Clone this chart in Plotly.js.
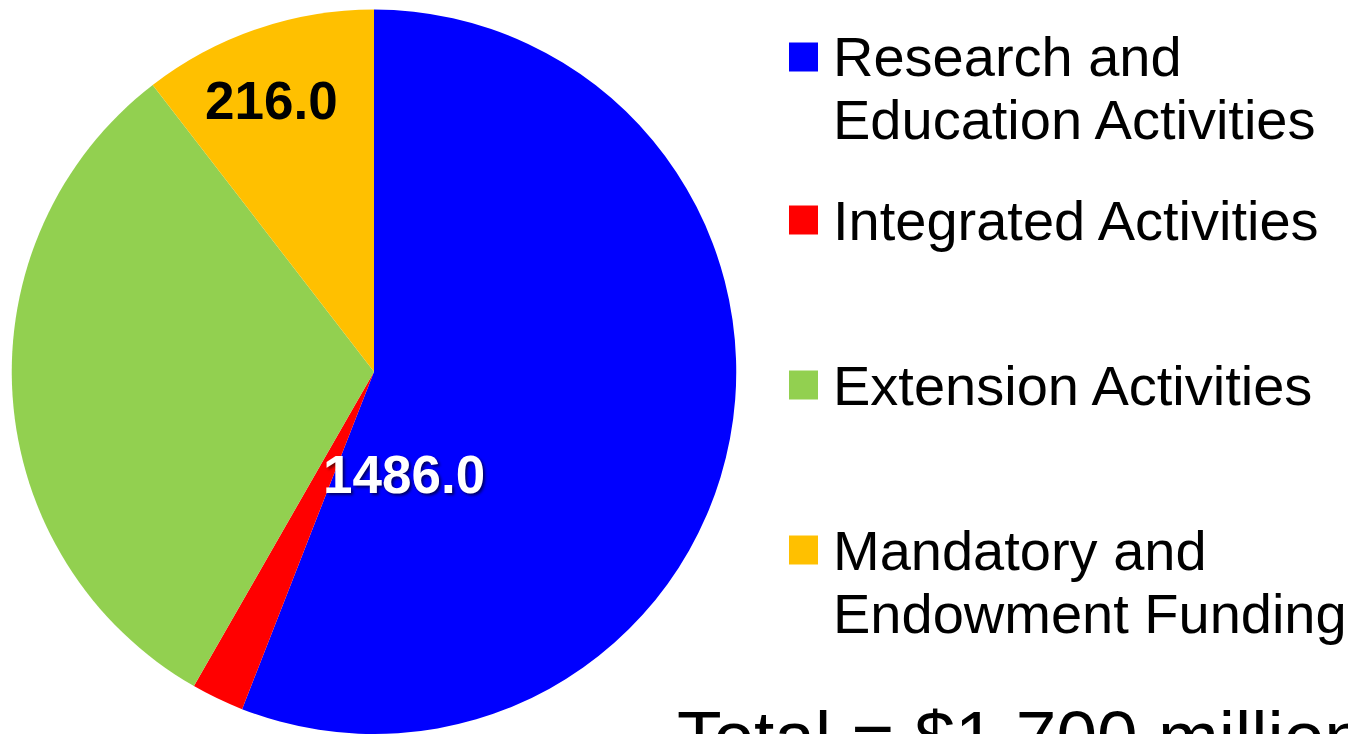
<!DOCTYPE html>
<html>
<head>
<meta charset="utf-8">
<script src="https://cdn.plot.ly/plotly-3.0.1.min.js"></script>
<style>html,body{margin:0;padding:0;background:#fff;}#chart{width:1348px;height:734px;}</style>
</head>
<body>
<div id="chart"></div>
<script>
// ---- data ----
const categories = ["Research and<br>Education Activities", "Integrated Activities", "Extension Activities", "Mandatory and<br>Endowment Funding"];
const values = [1155, 48.5, 645.5, 216];
const colors = ["#0000FF", "#FF0000", "#92D050", "#FFC000"];
const valueLabels = ["1486.0", "", "", "216.0"];
const totalLabel = "Total = $1,700 million";

// ---- layout helpers ----
const W = 1348, H = 734;
const px = x => x / W;
const py = y => 1 - y / H;
const FONT = '"Liberation Sans", Arial, sans-serif';

const pie = {
  type: 'pie',
  labels: categories,
  values: values,
  sort: false,
  direction: 'clockwise',
  rotation: 0,
  marker: {colors: colors, line: {width: 0}},
  textinfo: 'none',
  domain: {x: [px(11.75), px(736.25)], y: [0, py(9.5)]},
  hoverinfo: 'label+value',
  showlegend: false
};

// legend built from the category / colour arrays
const itemY = [57, 220, 385, 550];
const lineStep = 63;
const annotations = [];
const shapes = [];
categories.forEach((cat, i) => {
  shapes.push({
    type: 'rect', xref: 'paper', yref: 'paper',
    x0: px(789), x1: px(818), y0: py(itemY[i] + 14.5), y1: py(itemY[i] - 14.5),
    fillcolor: colors[i], line: {width: 0}
  });
  cat.split('<br>').forEach((line, j) => {
    annotations.push({
      xref: 'paper', yref: 'paper', x: px(831), y: py(itemY[i] + j * lineStep),
      xanchor: 'left', yanchor: 'middle', showarrow: false, text: line,
      font: {family: FONT, size: 56, color: '#000'}
    });
  });
});

// data labels on the slices
const labelPos = [[404, 475], null, null, [271, 100]];
const labelStyle = [
  {color: '#fff', shadow: '2px 2px 3px rgba(0,0,0,0.6)'},
  null, null,
  {color: '#000', shadow: 'none'}
];
valueLabels.forEach((t, i) => {
  if (!t) return;
  annotations.push({
    xref: 'paper', yref: 'paper', x: px(labelPos[i][0]), y: py(labelPos[i][1]),
    xanchor: 'center', yanchor: 'middle', showarrow: false, text: t,
    font: Object.assign({family: FONT, size: 53, weight: 'bold'}, labelStyle[i])
  });
});

// total
annotations.push({
  xref: 'paper', yref: 'paper', x: px(675), y: py(694),
  xanchor: 'left', yanchor: 'top', showarrow: false, text: totalLabel,
  font: {family: FONT, size: 73, color: '#000'}
});

const layout = {
  width: W, height: H,
  margin: {l: 0, r: 0, t: 0, b: 0, pad: 0},
  paper_bgcolor: '#fff',
  showlegend: false,
  annotations: annotations,
  shapes: shapes
};

Plotly.newPlot('chart', [pie], layout, {displayModeBar: false, responsive: false});
</script>
</body>
</html>
